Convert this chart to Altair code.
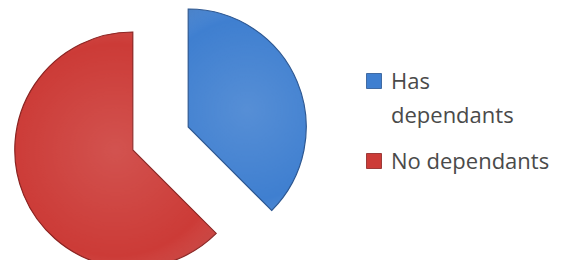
import altair as alt
import pandas as pd

categories = ["Has dependants", "No dependants"]
values = [37.5, 62.5]
fill_colors = ["#3f7fd0", "#cc3b37"]
edge_colors = ["#2a5590", "#8a2220"]

df = pd.DataFrame({"category": categories, "value": values, "order": list(range(len(categories)))})

CX, CY, R, EXPLODE = 152.5, 130.5, 118, 30

base = (
    alt.Chart(df)
    .transform_joinaggregate(total="sum(value)")
    .transform_window(cum="sum(value)", sort=[alt.SortField("order")], frame=[None, 0])
    .transform_calculate(
        t2="datum.cum / datum.total * 2 * PI",
        t1="(datum.cum - datum.value) / datum.total * 2 * PI",
    )
    .transform_calculate(mid="(datum.t1 + datum.t2) / 2")
    .transform_calculate(
        px=f"{CX} + {EXPLODE} * sin(datum.mid)",
        py=f"{CY} - {EXPLODE} * cos(datum.mid)",
    )
)

enc = dict(
    theta=alt.Theta("t1:Q", scale=None),
    theta2="t2:Q",
    x=alt.X("px:Q", scale=None),
    y=alt.Y("py:Q", scale=None),
)

slices = base.mark_arc(outerRadius=R, strokeWidth=1.2).encode(
    color=alt.Color(
        "category:N",
        scale=alt.Scale(domain=categories, range=fill_colors),
        legend=alt.Legend(
            title=None,
            orient="none",
            legendX=355,
            legendY=62,
            symbolType="square",
            symbolSize=225,
            symbolStrokeWidth=0.8,
            symbolStrokeColor="#333333",
            labelFont="Open Sans",
            labelFontSize=22,
            labelColor="#4a4a4a",
            labelLimit=400,
            labelOffset=6,
            labelBaseline="top",
            rowPadding=23,
            padding=0,
            labelExpr="length(datum.label) > 13 ? split(datum.label, ' ') : datum.label",
        ),
    ),
    stroke=alt.Stroke("category:N", scale=alt.Scale(domain=categories, range=edge_colors), legend=None),
    **enc,
)

shade = base.mark_arc(
    outerRadius=R,
    fill={
        "gradient": "radial",
        "x1": 0.5, "y1": 0.5, "r1": 0,
        "x2": 0.5, "y2": 0.5, "r2": 0.75,
        "stops": [
            {"offset": 0, "color": "rgba(255,255,255,0.12)"},
            {"offset": 0.6, "color": "rgba(255,255,255,0)"},
            {"offset": 1, "color": "rgba(0,0,0,0.3)"},
        ],
    },
).encode(**enc)

chart = (
    alt.layer(slices, shade)
    .properties(width=556, height=252, padding=0, autosize=alt.AutoSizeParams(type="none"))
    .configure(style={"guide-label": {"lineHeight": 34, "dy": -9}})
    .configure_view(stroke=None)
)

chart.save("out.html", embed_options={"renderer": "svg", "actions": False})
